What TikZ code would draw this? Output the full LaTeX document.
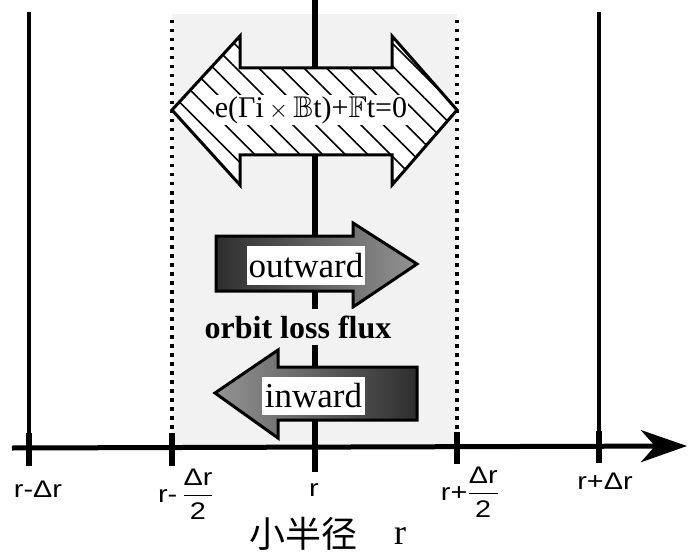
\documentclass[tikz,border=0pt]{standalone}
\usepackage{amsmath}
\usepackage{amssymb}
\usepackage{fontspec}
\setmainfont{Liberation Serif}
\setsansfont{Liberation Sans}
\newfontfamily\cjk{Noto Sans CJK SC}
\usetikzlibrary{arrows.meta,patterns.meta}
\definecolor{stipple}{gray}{0.95}
\newcommand{\widelbl}[1]{\scalebox{1.2}[1]{#1}}
\begin{document}
\begin{tikzpicture}[x=1pt,y=-1pt,
  axisline/.style={line width=5pt},
  solidv/.style={line width=3.5pt},
  dottedv/.style={line width=3.2pt, dash pattern=on 3.5pt off 5.5pt},
  tickmark/.style={line width=6pt},
  centerline/.style={line width=6pt},
  lbl/.style={font=\sffamily\fontsize{24}{26}\selectfont, inner sep=0pt},
  blockarrow/.style={draw=black, line width=3pt, line join=miter},
  wordbox/.style={fill=white, inner sep=0pt, font=\fontsize{35}{37}\selectfont},
  eqtext/.style={fill=white, inner sep=1pt, font=\fontsize{30}{32}\selectfont},
  fluxtext/.style={fill=stipple, inner xsep=2pt, inner ysep=7pt, font=\bfseries\fontsize{32}{34}\selectfont},
  cjklbl/.style={font=\cjk\fontsize{36}{38}\selectfont, inner sep=0pt},
  rlbl/.style={font=\fontsize{36}{38}\selectfont, inner sep=0pt}
]
\useasboundingbox (0,0) rectangle (690,556);
% light stipple region
\fill[stipple] (172,14) rectangle (457,446);

% coordinates
\coordinate (axL) at (12,448);
\coordinate (axR) at (687,446);
\coordinate (v1t) at (29,12);   \coordinate (v1m) at (29,433);  \coordinate (v1b) at (29,466);
\coordinate (v2t) at (172,20);  \coordinate (v2m) at (172,433); \coordinate (v2b) at (172,466);
\coordinate (v3t) at (315,0);   \coordinate (v3b) at (315,472);
\coordinate (v4t) at (457,20);  \coordinate (v4m) at (457,432); \coordinate (v4b) at (457,464);
\coordinate (v5t) at (599,12);  \coordinate (v5m) at (599,431); \coordinate (v5b) at (599,463);

% vertical lines
\draw[solidv] (v1t) -- (v1m);
\draw[tickmark] (v1m) -- (v1b);
\draw[dottedv] (v2t) -- (v2m);
\draw[tickmark] (v2m) -- (v2b);
\draw[centerline] (v3t) -- (v3b);
\draw[dottedv] (v4t) -- (v4m);
\draw[tickmark] (v4m) -- (v4b);
\draw[solidv] (v5t) -- (v5m);
\draw[tickmark] (v5m) -- (v5b);

% axis
\draw[axisline, -{Stealth[length=46pt,width=32pt,inset=14pt]}] (axL) -- (axR);

% big double arrow
\path[blockarrow, fill=white, postaction={pattern={Lines[angle=-45,distance=16pt,line width=1.6pt]}}]
  (172,110) -- (240,36) -- (240,68) -- (392,68) -- (392,36) -- (457,110)
  -- (392,185) -- (392,155) -- (240,155) -- (240,185) -- cycle;
\node[eqtext] (eq) at (311,110) {e(Γi\,$\times$\,$\mathbb{B}$t)+$\mathbb{F}$t=0};

% outward arrow
\path[blockarrow, left color=black!82, right color=black!42]
  (216,236) -- (353,236) -- (353,223) -- (417,264) -- (353,307) -- (353,291) -- (216,291) -- cycle;
\node[wordbox, minimum width=118pt, minimum height=39pt] (outw) at (306,265.5) {outward};

% flux text
\node[fluxtext] (flux) at (298,327) {orbit loss flux};

% inward arrow
\path[blockarrow, left color=black!42, right color=black!82]
  (215,393) -- (278,350) -- (278,367) -- (417,367) -- (417,420) -- (278,420) -- (278,438) -- cycle;
\node[wordbox, minimum width=103pt, minimum height=38pt] (inw) at (313.5,396) {inward};

% labels
\node[lbl] (l1) at (38,489) {\widelbl{r-Δr}};
\node[lbl] (l2) at (186,494) {\widelbl{r-\,$\dfrac{\text{Δr}}{\text{2}}$}};
\node[lbl] (l3) at (314,490) {\widelbl{r}};
\node[lbl] (l4) at (470,492) {\widelbl{r+$\dfrac{\text{Δr}}{\text{2}}$}};
\node[lbl] (l5) at (605,481) {\widelbl{r+Δr}};
\node[cjklbl] (cjkl) at (303,534) {小半径};
\node[rlbl] (rl) at (400,536) {r};
\end{tikzpicture}
\end{document}
